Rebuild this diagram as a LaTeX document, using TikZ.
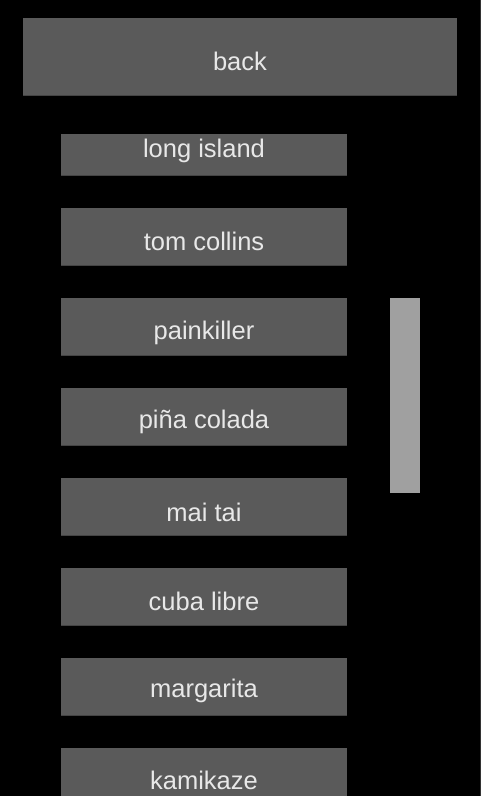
\documentclass[tikz,border=0pt]{standalone}
\usepackage{fontspec}
\setmainfont{Liberation Sans}
\definecolor{btn}{HTML}{5A5A5A}
\definecolor{btnedge}{HTML}{444444}
\definecolor{txt}{HTML}{E8E8E8}
\definecolor{thumb}{HTML}{A0A0A0}
\definecolor{rim}{HTML}{333333}
\begin{document}
\begin{tikzpicture}[x=1pt,y=-1pt,
  btnbox/.style={fill=btn,draw=none},
  label/.style={anchor=base,text=txt,font=\fontsize{25.5}{30}\selectfont,inner sep=0pt}]
\useasboundingbox (0,0) rectangle (481,796);
\fill[black] (0,0) rectangle (481,796);
\fill[rim] (480,0) rectangle (481,796);
% back button
\fill[btnbox] (23,18) rectangle (457,96);
\fill[btnedge] (23,95) rectangle (457,96);
\node[label] (back) at (240,70) {back};
% list buttons
\foreach \t/\b in {134/176,208/266,298/356,388/446,478/536,568/626,658/716,748/800}{
  \fill[btnbox] (61,\t) rectangle (347,\b);
  \fill[btnedge] (61,\b-1) rectangle (347,\b);
}
\node[label] (i1) at (204,157) {long island};
\node[label] (i2) at (204,250) {tom collins};
\node[label] (i3) at (204,339) {painkiller};
\node[label] (i4) at (204,428) {piña colada};
\node[label] (i5) at (204,521) {mai tai};
\node[label] (i6) at (204,610) {cuba libre};
\node[label] (i7) at (204,697) {margarita};
\node[label] (i8) at (204,789) {kamikaze};
% scrollbar thumb
\fill[thumb] (390,298) rectangle (420,493);
\end{tikzpicture}
\end{document}
